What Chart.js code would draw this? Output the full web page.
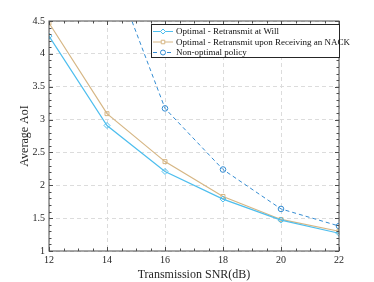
<!DOCTYPE html>
<html>
<head>
<meta charset="utf-8">
<script src="https://cdn.jsdelivr.net/npm/chart.js@4/dist/chart.umd.min.js"></script>
<style>
html,body{margin:0;padding:0;background:#fff;}
#wrap{width:374px;height:282px;}
</style>
</head>
<body>
<div id="wrap"><canvas id="myChart" width="374" height="282"></canvas></div>
<script>
var snr=[12,14,16,18,20,22];
var atWill=[4.27,2.91,2.21,1.79,1.47,1.27];
var uponNack=[4.47,3.09,2.36,1.83,1.48,1.30];
var nonOptimal=[9.0,5.5,3.17,2.24,1.64,1.38];
var xTicks=[12,14,16,18,20,22];
var yTicks=[1,1.5,2,2.5,3,3.5,4,4.5];

var serif='"Liberation Serif", "DejaVu Serif", serif';

function pts(ys){
	return snr.map(function(x,i){return {x:x,y:ys[i]};});
}

// ticks pointing inward plus minor ticks, box around plot, legend inside
var matlabAxes={
	id:'matlabAxes',
	afterDraw:function(chart){
		var c=chart.ctx, a=chart.chartArea, xs=chart.scales.x, ys=chart.scales.y;
		c.save();
		c.strokeStyle='#4d4d4d';
		c.lineWidth=1;
		c.strokeRect(a.left,a.top,a.right-a.left,a.bottom-a.top);
		c.beginPath();
		for(var v=12;v<=22.001;v+=0.5){
			var px=Math.round(xs.getPixelForValue(v))+0.5;
			var len=(Math.abs(v%2)<0.01)?4:2.5;
			c.moveTo(px,a.bottom);c.lineTo(px,a.bottom-len);
			c.moveTo(px,a.top);c.lineTo(px,a.top+len);
		}
		for(var k=10;k<=45;k++){
			var py=Math.round(ys.getPixelForValue(k/10))+0.5;
			var l2=(k%5===0)?4:2.5;
			c.moveTo(a.left,py);c.lineTo(a.left+l2,py);
			c.moveTo(a.right,py);c.lineTo(a.right-l2,py);
		}
		c.stroke();

		// legend
		var lx=151,ly=24,lw=188,lh=33;
		c.fillStyle='#fff';
		c.fillRect(lx,ly,lw,lh);
		c.strokeStyle='#262626';
		c.strokeRect(lx+0.5,ly+0.5,lw,lh);
		c.font='9px '+serif;
		c.textBaseline='middle';
		chart.data.datasets.forEach(function(ds,i){
			var yy=ly+7.5+i*10.5;
			c.strokeStyle=ds.borderColor;
			c.lineWidth=1;
			c.setLineDash(ds.borderDash||[]);
			c.beginPath();c.moveTo(lx+2,yy);c.lineTo(lx+22,yy);c.stroke();
			c.setLineDash([]);
			c.fillStyle='#fff';
			Chart.helpers.drawPoint(c,{pointStyle:ds.pointStyle,radius:2.5,borderWidth:1},lx+12,yy);
			c.fillStyle='#111';
			c.fillText(ds.label,lx+25,yy+0.5);
		});
		c.restore();
	}
};

new Chart(document.getElementById('myChart'),{
	type:'line',
	data:{
		datasets:[
		{
			label:'Optimal - Retransmit at Will',
			data:pts(atWill),
			borderColor:'rgb(77,190,238)',
			backgroundColor:'rgba(0,0,0,0)',
			borderWidth:1.2,
			pointStyle:'rectRot',
			pointRadius:3,
			pointBorderWidth:1,
			tension:0
		},
		{
			label:'Optimal - Retransmit upon Receiving an NACK',
			data:pts(uponNack),
			borderColor:'rgb(214,182,132)',
			backgroundColor:'rgba(0,0,0,0)',
			borderWidth:1.2,
			pointStyle:'rect',
			pointRadius:2.8,
			pointBorderWidth:1,
			tension:0
		},
		{
			label:'Non-optimal policy',
			data:pts(nonOptimal),
			borderColor:'rgb(52,140,210)',
			backgroundColor:'rgba(0,0,0,0)',
			borderWidth:1,
			borderDash:[4,3],
			pointStyle:'circle',
			pointRadius:2.8,
			pointBorderWidth:1,
			tension:0
		}
		]
	},
	options:{
		responsive:false,
		animation:false,
		layout:{padding:{left:18,right:35,top:21,bottom:0}},
		plugins:{legend:{display:false},tooltip:{enabled:false}},
		scales:{
			x:{
				type:'linear',min:12,max:22,
				afterBuildTicks:function(s){s.ticks=xTicks.map(function(v){return {value:v};});},
				afterFit:function(s){s.height=31;},
				grid:{color:'#dcdcdc',drawTicks:false},
				border:{display:false,dash:[4,3]},
				ticks:{color:'#262626',font:{family:serif,size:10},padding:3,maxRotation:0},
				title:{display:true,text:'Transmission SNR(dB)',color:'#262626',font:{family:serif,size:12},padding:{top:0,bottom:0}}
			},
			y:{
				min:1,max:4.5,
				afterBuildTicks:function(s){s.ticks=yTicks.map(function(v){return {value:v};});},
				afterFit:function(s){s.width=31;},
				grid:{color:'#dcdcdc',drawTicks:false},
				border:{display:false,dash:[4,3]},
				ticks:{color:'#262626',font:{family:serif,size:10},padding:4,callback:function(v){return String(v);}},
				title:{display:true,text:'Average AoI',color:'#262626',font:{family:serif,size:12},padding:{top:0,bottom:0}}
			}
		}
	},
	plugins:[matlabAxes]
});
</script>
</body>
</html>
